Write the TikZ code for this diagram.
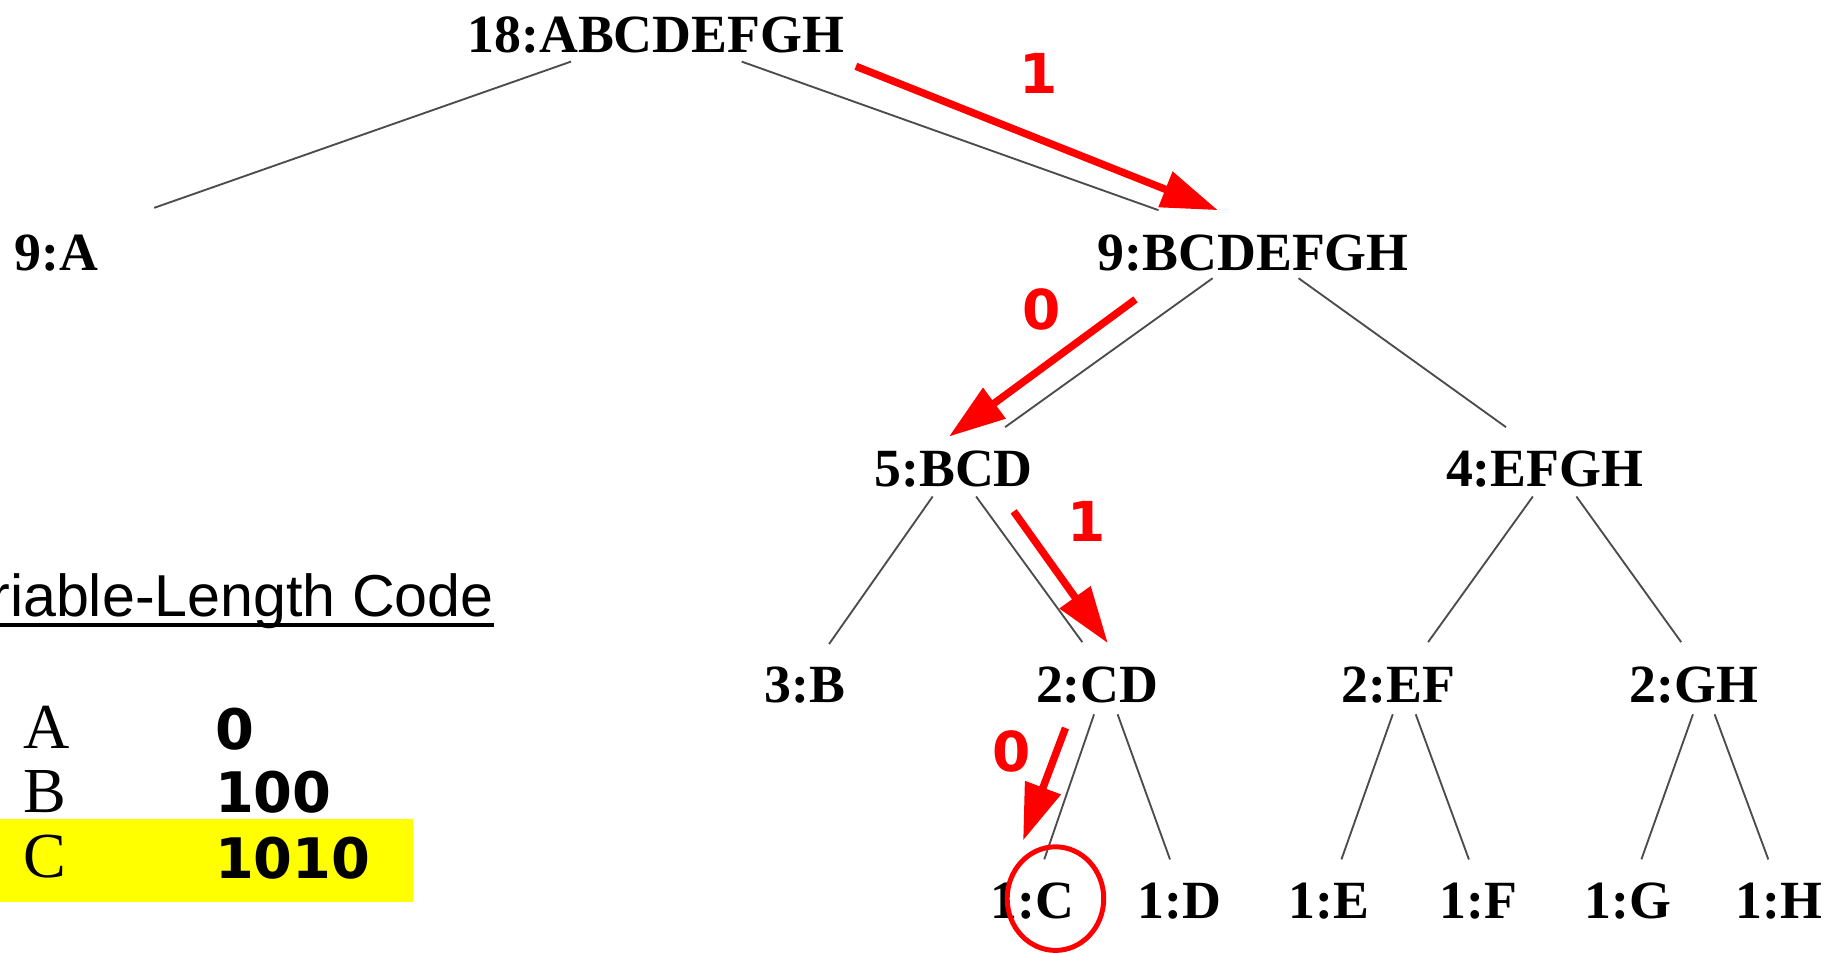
\documentclass[tikz,border=0pt]{standalone}
\usepackage{fontspec}
\setmainfont{Liberation Serif}
\newfontfamily\codefont{DejaVu Sans}
\newfontfamily\headfont{Liberation Sans}
\usetikzlibrary{arrows.meta,calc}
\definecolor{marker}{RGB}{255,255,0}

\begin{document}
\begin{tikzpicture}[
    tree/.style={inner sep=0pt, anchor=base, font=\fontsize{13}{13}\selectfont\bfseries},
    branch/.style={black!70, line width=0.45pt},
    walk/.style={red, line width=1.8pt, -{Triangle[length=4.8mm,width=3.1mm]}},
    bit/.style={red, inner sep=0pt, font=\codefont\fontsize{13.3}{13.3}\selectfont\bfseries},
    letter/.style={inner sep=0pt, anchor=base west, font=\fontsize{15.5}{15.5}\selectfont},
    code/.style={inner sep=0pt, anchor=base west, font=\codefont\fontsize{13.5}{13.5}\selectfont\bfseries}]
    \useasboundingbox (0,0) rectangle (15.68,8.09);

    % tree levels
    \node[tree] (root) at (5.57,7.643) {18:ABCDEFGH};
    \node[tree] (nA) at (0.48,5.79) {9:A};
    \node[tree] (n9) at (10.645,5.795) {9:BCDEFGH};
    \node[tree] (n5) at (8.10,3.956) {5:BCD};
    \node[tree] (n4) at (13.12,3.956) {4:EFGH};
    \node[tree] (n3) at (6.84,2.12) {3:B};
    \node[tree] (nCD) at (9.32,2.12) {2:CD};
    \node[tree] (nEF) at (11.88,2.12) {2:EF};
    \node[tree] (nGH) at (14.39,2.12) {2:GH};
    \node[tree] (nC) at (8.77,0.284) {1:C};
    \node[tree] (nD) at (10.02,0.284) {1:D};
    \node[tree] (nE) at (11.29,0.284) {1:E};
    \node[tree] (nF) at (12.56,0.284) {1:F};
    \node[tree] (nG) at (13.83,0.284) {1:G};
    \node[tree] (nH) at (15.11,0.284) {1:H};

    % thin branches
    \draw[branch] ($(root.south)+(-0.72,-0.063)$) -- ($(nA.north)+(0.83,0.225)$);
    \draw[branch] ($(root.south)+(0.73,-0.063)$) -- ($(n9.north)+(-0.805,0.2)$);
    \draw[branch] ($(n9.south)+(-0.345,-0.055)$) -- ($(n5.north)+(0.437,0.196)$);
    \draw[branch] ($(n9.south)+(0.385,-0.055)$) -- ($(n4.north)+(-0.328,0.196)$);
    \draw[branch] ($(n5.south)+(-0.178,-0.07)$) -- ($(n3.north)+(0.202,0.19)$);
    \draw[branch] ($(n5.south)+(0.191,-0.07)$) -- ($(nCD.north)+(-0.127,0.206)$);
    \draw[branch] ($(n4.south)+(-0.10,-0.07)$) -- ($(nEF.north)+(0.25,0.206)$);
    \draw[branch] ($(n4.south)+(0.27,-0.07)$) -- ($(nGH.north)+(-0.11,0.206)$);
    \draw[branch] ($(nCD.south)+(-0.027,-0.084)$) -- ($(nC.north)+(0.10,0.197)$);
    \draw[branch] ($(nCD.south)+(0.173,-0.084)$) -- ($(nD.north)+(-0.082,0.197)$);
    \draw[branch] ($(nEF.south)+(-0.05,-0.084)$) -- ($(nE.north)+(0.104,0.197)$);
    \draw[branch] ($(nEF.south)+(0.145,-0.084)$) -- ($(nF.north)+(-0.083,0.197)$);
    \draw[branch] ($(nGH.south)+(-0.01,-0.084)$) -- ($(nG.north)+(0.112,0.197)$);
    \draw[branch] ($(nGH.south)+(0.174,-0.084)$) -- ($(nH.north)+(-0.09,0.197)$);

    % red path down to C
    \draw[walk] ($(root.south)+(1.70,-0.103)$) -- ($(n9.north)+(-0.30,0.20)$);
    \draw[walk] ($(n9.south)+(-1.00,-0.235)$) -- ($(n5.north)+(-0.04,0.116)$);
    \draw[walk] ($(n5.south)+(0.51,-0.196)$) -- ($(nCD.north)+(0.09,0.197)$);
    \draw[walk] ($(nCD.south)+(-0.27,-0.20)$) -- ($(nC.north)+(-0.08,0.357)$);
    \node[bit] (b1) at (8.82,7.47) {1};
    \node[bit] (b2) at (8.845,5.46) {0};
    \node[bit] (b3) at (9.23,3.66) {1};
    \node[bit] (b4) at (8.595,1.71) {0};
    \draw[red, line width=1.2pt] ($(nC)+(0.195,0.025)$) ellipse (0.41 and 0.44);

    % code table
    \fill[marker] (0,0.43) rectangle (3.51,1.13);
    \node[inner sep=0pt, anchor=base east, font=\headfont\fontsize{14.3}{14.3}\selectfont] (title) at (4.20,2.85) {Variable-Length Code};
    \draw[line width=0.95pt] ([yshift=-0.7mm]title.base west) -- ([yshift=-0.7mm]title.base east);
    \node[letter] (tA) at (0.19,1.734) {A};
    \node[letter] (tB) at (0.19,1.19) {B};
    \node[letter] (tC) at (0.19,0.64) {C};
    \node[code] (cA) at (1.82,1.72) {0};
    \node[code] (cB) at (1.82,1.185) {100};
    \node[code] (cC) at (1.82,0.63) {1010};
\end{tikzpicture}
\end{document}
